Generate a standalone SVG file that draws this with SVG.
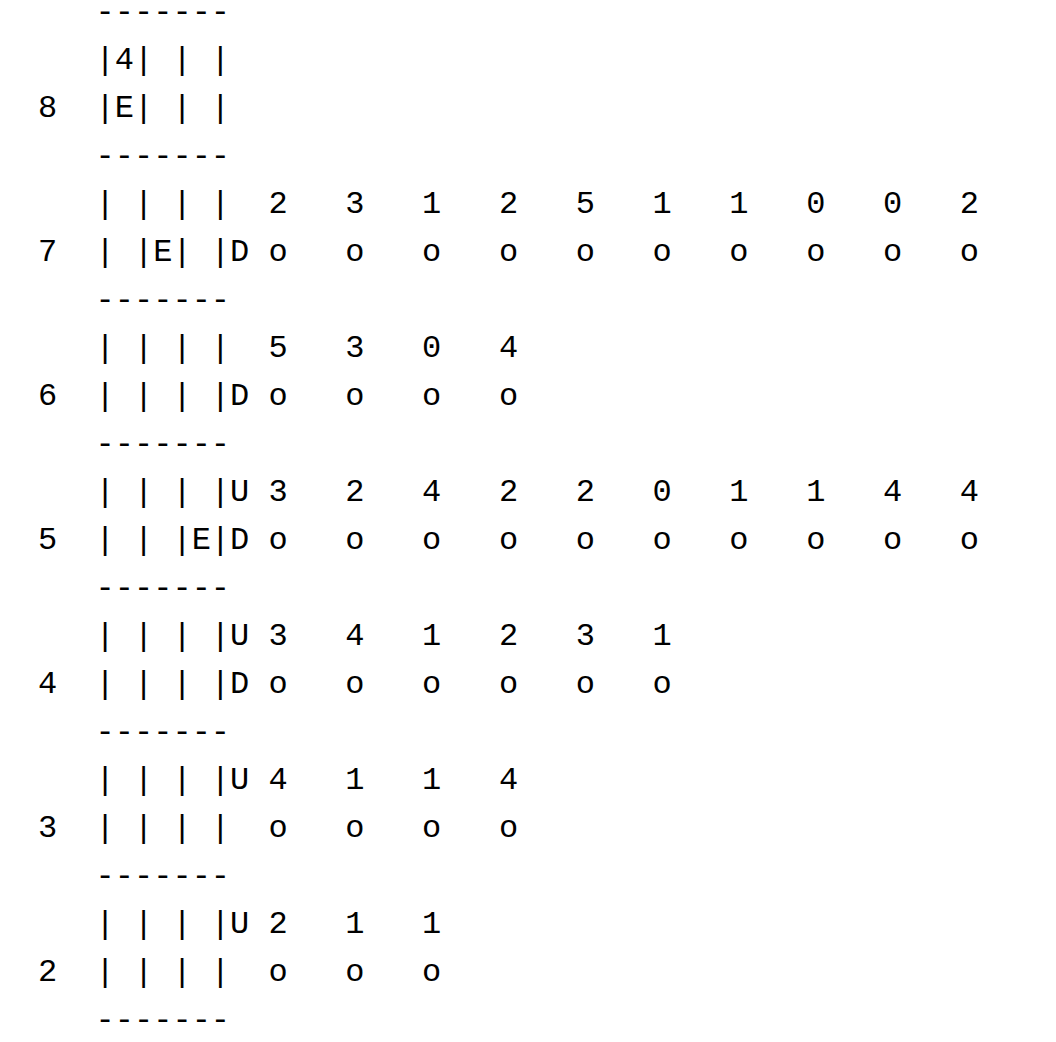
<svg xmlns="http://www.w3.org/2000/svg" width="1056" height="1042" viewBox="0 0 1056 1042">
<style>
text{font-family:"Liberation Mono","Courier New",monospace;font-size:32px;fill:#000;white-space:pre}
</style>
<rect width="1056" height="1042" fill="#fff"/>
<g id="chart" xml:space="preserve">
<text x="38" y="21">   -------</text>
<text x="38" y="69">   |4| | |</text>
<text x="38" y="117">8  |E| | |</text>
<text x="38" y="165">   -------</text>
<text x="38" y="213">   | | | |  2   3   1   2   5   1   1   0   0   2</text>
<text x="38" y="261">7  | |E| |D o   o   o   o   o   o   o   o   o   o</text>
<text x="38" y="309">   -------</text>
<text x="38" y="357">   | | | |  5   3   0   4</text>
<text x="38" y="405">6  | | | |D o   o   o   o</text>
<text x="38" y="453">   -------</text>
<text x="38" y="501">   | | | |U 3   2   4   2   2   0   1   1   4   4</text>
<text x="38" y="549">5  | | |E|D o   o   o   o   o   o   o   o   o   o</text>
<text x="38" y="597">   -------</text>
<text x="38" y="645">   | | | |U 3   4   1   2   3   1</text>
<text x="38" y="693">4  | | | |D o   o   o   o   o   o</text>
<text x="38" y="741">   -------</text>
<text x="38" y="789">   | | | |U 4   1   1   4</text>
<text x="38" y="837">3  | | | |  o   o   o   o</text>
<text x="38" y="885">   -------</text>
<text x="38" y="933">   | | | |U 2   1   1</text>
<text x="38" y="981">2  | | | |  o   o   o</text>
<text x="38" y="1029">   -------</text>
</g>
</svg>
